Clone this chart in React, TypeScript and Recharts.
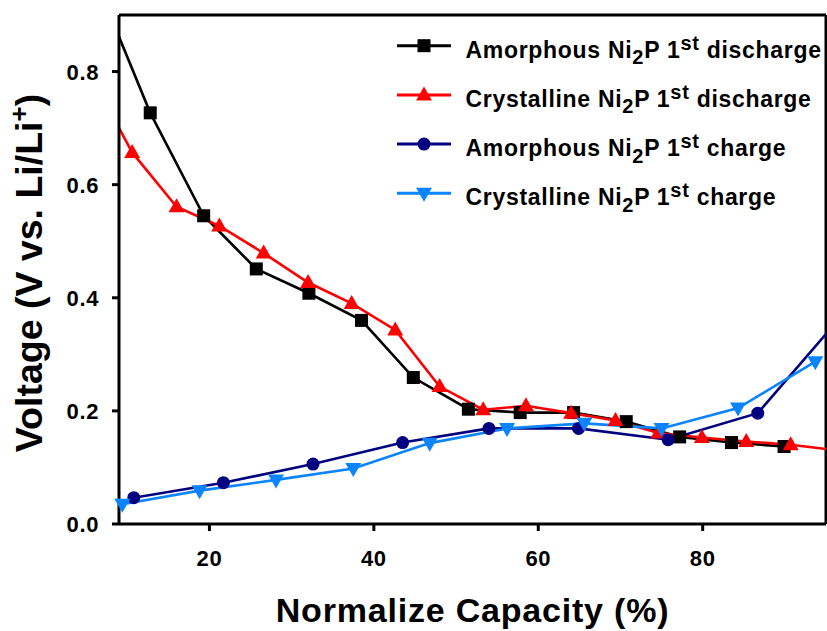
import React from "react";
import { LineChart, Line, XAxis, YAxis, ReferenceLine, Legend, Label } from "recharts";

// capacity (%) and voltage (V) per curve; the outermost points sit past the
// axis range and only steer the line into the frame edge
const amorphousDischargeCap = [8, 12.8, 19.3, 25.7, 32.1, 38.5, 44.8, 51.5, 57.8, 64.3, 70.7, 77.2, 83.5, 89.9];
const amorphousDischargeV = [0.897, 0.727, 0.545, 0.451, 0.408, 0.36, 0.259, 0.203, 0.197, 0.197, 0.181, 0.154, 0.144, 0.137];

const crystallineDischargeCap = [5.3, 10.6, 16.0, 21.2, 26.6, 32.0, 37.3, 42.6, 48.0, 53.3, 58.5, 64.0, 69.4, 74.6, 79.9, 85.3, 90.7, 96.0];
const crystallineDischargeV = [0.8, 0.657, 0.561, 0.527, 0.479, 0.427, 0.39, 0.343, 0.243, 0.202, 0.209, 0.196, 0.183, 0.161, 0.153, 0.146, 0.14, 0.131];

const amorphousChargeCap = [10.8, 21.7, 32.6, 43.5, 54.0, 64.9, 75.8, 86.7, 97.6];
const amorphousChargeV = [0.0465, 0.073, 0.106, 0.144, 0.169, 0.169, 0.149, 0.196, 0.38];

const crystallineChargeCap = [9.4, 18.8, 28.1, 37.5, 46.8, 56.2, 65.6, 75.0, 84.3, 93.7];
const crystallineChargeV = [0.035, 0.059, 0.078, 0.098, 0.143, 0.169, 0.178, 0.169, 0.205, 0.287];

const xTicks = [20, 40, 60, 80];
const yTicks = [0, 0.2, 0.4, 0.6, 0.8];

const FONT = "'Liberation Sans', Arial, Helvetica, sans-serif";

const toPoints = (xs: number[], ys: number[]) => xs.map((x, i) => ({ x, y: ys[i] }));

type Shape = "square" | "triangle" | "circle" | "triangleDown";

const Marker = ({ cx, cy, shape, color }: { cx: number; cy: number; shape: Shape; color: string }) => {
  if (cx == null || cy == null) return null;
  switch (shape) {
    case "square":
      return <rect x={cx - 6.5} y={cy - 6.5} width={13} height={13} fill={color} />;
    case "triangle":
      return <polygon points={`${cx},${cy - 8.5} ${cx - 8},${cy + 5.5} ${cx + 8},${cy + 5.5}`} fill={color} />;
    case "triangleDown":
      return <polygon points={`${cx - 8},${cy - 5.5} ${cx + 8},${cy - 5.5} ${cx},${cy + 8.5}`} fill={color} />;
    default:
      return <circle cx={cx} cy={cy} r={6.5} fill={color} />;
  }
};

const series = [
  { key: "ad", material: "Amorphous", step: "discharge", color: "#000000", shape: "square" as Shape, data: toPoints(amorphousDischargeCap, amorphousDischargeV), axis: "cap" },
  { key: "cd", material: "Crystalline", step: "discharge", color: "#ff0000", shape: "triangle" as Shape, data: toPoints(crystallineDischargeCap, crystallineDischargeV), axis: "cap" },
  { key: "ac", material: "Amorphous", step: "charge", color: "#000080", shape: "circle" as Shape, data: toPoints(amorphousChargeCap, amorphousChargeV), axis: "cap" },
  { key: "cc", material: "Crystalline", step: "charge", color: "#0a84ff", shape: "triangleDown" as Shape, data: toPoints(crystallineChargeCap, crystallineChargeV), axis: "free" },
];

const XTick = ({ x, y, payload }: any) => (
  <text x={x} y={y + 16} textAnchor="middle" fontFamily={FONT} fontWeight={700} fontSize={22} letterSpacing={0.6} fill="#000">
    {payload.value}
  </text>
);

const YTick = ({ x, y, payload }: any) => (
  <text x={x} y={y + 8} textAnchor="end" fontFamily={FONT} fontWeight={700} fontSize={22} letterSpacing={0.6} fill="#000">
    {Number(payload.value).toFixed(1)}
  </text>
);

const LegendBox = () => (
  <svg width={437} height={200} style={{ display: "block" }}>
    {series.map((s, i) => {
      const cy = 25.7 + i * 49.2;
      return (
        <g key={s.key}>
          <line x1={7} x2={61} y1={cy} y2={cy} stroke={s.color} strokeWidth={3} />
          <Marker cx={34} cy={cy} shape={s.shape} color={s.color} />
          <text x={75.5} y={cy + 12} fontFamily={FONT} fontWeight={700} fontSize={23} letterSpacing={0.7} fill="#000">
            {s.material} Ni
            <tspan fontSize={20} dy={6.5}>2</tspan>
            <tspan dy={-6.5}>P 1</tspan>
            <tspan fontSize={20} dy={-8}>st</tspan>
            <tspan dy={8}> {s.step}</tspan>
          </text>
        </g>
      );
    })}
  </svg>
);

export default function App() {
  return (
    <div style={{ position: "absolute", left: 0, top: 0, width: 827, height: 631, background: "#fff" }}>
      <LineChart width={827} height={631} margin={{ top: 15, right: 1, bottom: 0, left: 0 }}>
        <XAxis
          xAxisId="cap"
          type="number"
          dataKey="x"
          domain={[9, 95]}
          allowDataOverflow
          ticks={xTicks}
          height={107}
          tickSize={7}
          tickMargin={19}
          tick={<XTick />}
          axisLine={{ stroke: "#000", strokeWidth: 3 }}
          tickLine={{ stroke: "#000", strokeWidth: 3 }}
        >
          <Label
            content={({ viewBox }: any) => (
              <text
                x={viewBox.x + viewBox.width / 2}
                y={viewBox.y + 98}
                textAnchor="middle"
                fontFamily={FONT}
                fontWeight={700}
                fontSize={34}
                letterSpacing={0.8}
                fill="#000"
              >
                Normalize Capacity (%)
              </text>
            )}
          />
        </XAxis>
        <XAxis xAxisId="free" type="number" dataKey="x" domain={[9, 95]} hide />
        <YAxis
          type="number"
          domain={[0, 0.9]}
          ticks={yTicks}
          width={119}
          tickSize={7}
          tickMargin={13}
          tick={<YTick />}
          axisLine={{ stroke: "#000", strokeWidth: 3 }}
          tickLine={{ stroke: "#000", strokeWidth: 3 }}
        >
          <Label
            content={() => (
              <text
                x={42}
                y={273}
                transform="rotate(-90 42 273)"
                textAnchor="middle"
                fontFamily={FONT}
                fontWeight={700}
                fontSize={37.5}
                fill="#000"
              >
                Voltage (V vs. Li/Li
                <tspan fontSize={26} dy={-14}>+</tspan>
                <tspan dy={14}>)</tspan>
              </text>
            )}
          />
        </YAxis>
        {/* top and right edges of the frame */}
        <ReferenceLine xAxisId="cap" y={0.9} stroke="#000" strokeWidth={3} />
        <ReferenceLine xAxisId="cap" x={95} stroke="#000" strokeWidth={3} />
        {series.map((s) => (
          <Line
            key={s.key}
            xAxisId={s.axis}
            data={s.data}
            dataKey="y"
            type="linear"
            stroke={s.color}
            strokeWidth={2.6}
            isAnimationActive={false}
            dot={(p: any) => <Marker key={`${s.key}-${p.index}`} cx={p.cx} cy={p.cy} shape={s.shape} color={s.color} />}
            activeDot={false}
          />
        ))}
        <Legend
          layout="horizontal"
          verticalAlign="middle"
          align="center"
          wrapperStyle={{ top: 20, left: 390, width: 437, height: 200 }}
          content={() => <LegendBox />}
        />
      </LineChart>
    </div>
  );
}
